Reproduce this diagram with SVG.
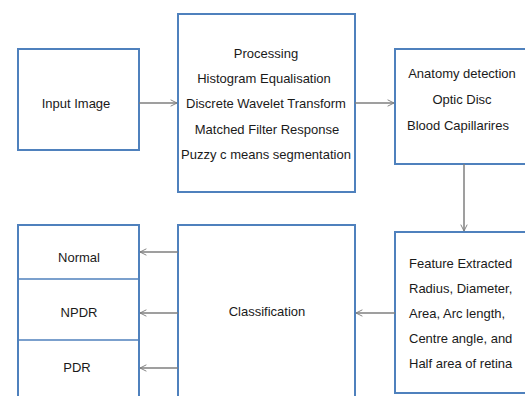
<svg xmlns="http://www.w3.org/2000/svg" width="525" height="396" viewBox="0 0 525 396">
<defs>
<style>
.box{fill:#fff;stroke:#4f81bd;stroke-width:2}
.div{stroke:#4f81bd;stroke-width:1.5}
.t{font-family:"Liberation Sans Narrow","Liberation Sans",Arial,sans-serif;font-size:13px;fill:#1a1a1a;text-anchor:middle}
.l{text-anchor:start}
.c{stroke:#7f7f7f;stroke-width:1.5;fill:none;marker-end:url(#ah)}
</style>
<marker id="ah" viewBox="0 0 10 10" refX="9" refY="5" markerWidth="8" markerHeight="8" markerUnits="userSpaceOnUse" orient="auto">
<path d="M1,1 L9,5 L1,9" fill="none" stroke="#7f7f7f" stroke-width="1.2"/>
</marker>
</defs>
<rect width="525" height="396" fill="#fff"/>
<g id="input">
<rect class="box" x="18" y="49" width="121" height="101"/>
<text class="t" x="76" y="108">Input Image</text>
</g>
<g id="processing">
<rect class="box" x="178" y="14" width="177" height="178"/>
<text class="t" x="266" y="58">Processing</text>
<text class="t" x="264" y="83">Histogram Equalisation</text>
<text class="t" x="266" y="108">Discrete Wavelet Transform</text>
<text class="t" x="267" y="134">Matched Filter Response</text>
<text class="t" x="266" y="159">Puzzy c means segmentation</text>
</g>
<g id="anatomy">
<rect class="box" x="395" y="49" width="140" height="115"/>
<text class="t" x="462" y="78">Anatomy detection</text>
<text class="t" x="462" y="104">Optic Disc</text>
<text class="t" x="458" y="130">Blood Capillarires</text>
</g>
<g id="feature">
<rect class="box" x="395" y="232" width="140" height="161"/>
<text class="t l" x="409" y="268">Feature Extracted</text>
<text class="t l" x="409" y="293">Radius, Diameter,</text>
<text class="t l" x="409" y="318">Area, Arc length,</text>
<text class="t l" x="409" y="343">Centre angle, and</text>
<text class="t l" x="409" y="368">Half area of retina</text>
</g>
<g id="classification">
<rect class="box" x="178" y="225" width="177" height="180"/>
<text class="t" x="267" y="316">Classification</text>
</g>
<g id="outcomes">
<rect class="box" x="18" y="225" width="121" height="180"/>
<line class="div" x1="18" y1="279" x2="139" y2="279"/>
<line class="div" x1="18" y1="340" x2="139" y2="340"/>
<text class="t" x="79" y="262">Normal</text>
<text class="t" x="79" y="317">NPDR</text>
<text class="t" x="77" y="372">PDR</text>
</g>
<g id="connectors">
<line class="c" x1="139" y1="103" x2="177" y2="103"/>
<line class="c" x1="355" y1="103" x2="394" y2="103"/>
<line class="c" x1="464" y1="164" x2="464" y2="231"/>
<line class="c" x1="395" y1="313" x2="356" y2="313"/>
<line class="c" x1="178" y1="252" x2="140" y2="252"/>
<line class="c" x1="178" y1="313" x2="140" y2="313"/>
<line class="c" x1="178" y1="368" x2="140" y2="368"/>
</g>
</svg>
